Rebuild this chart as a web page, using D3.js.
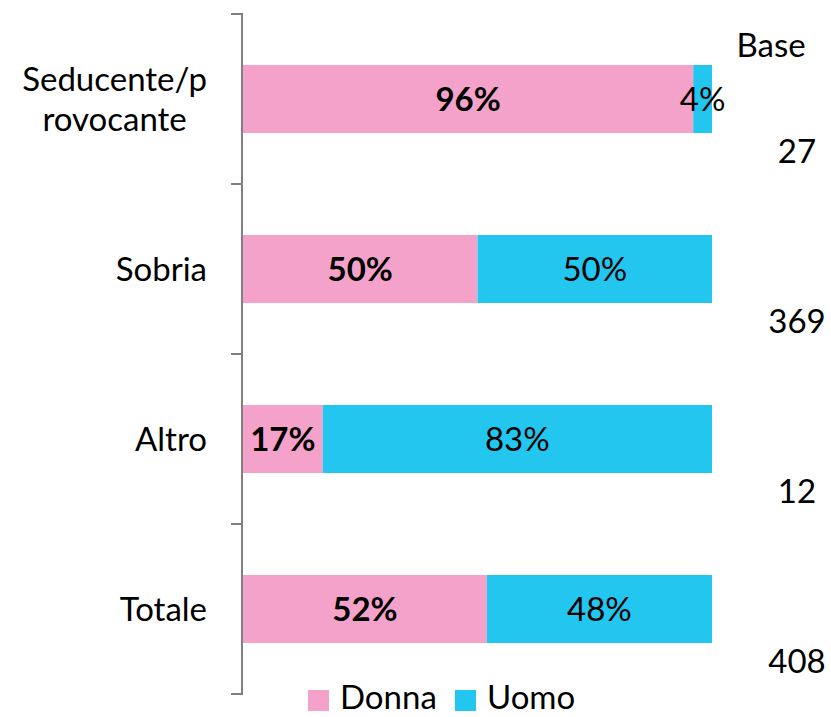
<!DOCTYPE html>
<html>
<head>
<meta charset="utf-8">
<script src="https://cdn.jsdelivr.net/npm/d3@7"></script>
<style>
  html, body { margin: 0; padding: 0; background: #fff; }
  svg { display: block; }
  text { font-family: Lato, "Open Sans", sans-serif; fill: #000; }
</style>
</head>
<body>
<svg id="chart" width="831" height="717"></svg>
<script>
// Gender split of respondents by style, with sample bases
const categories = ["Seducente/p rovocante", "Sobria", "Altro", "Totale"];
const categoryLines = [["Seducente/p", "rovocante"], ["Sobria"], ["Altro"], ["Totale"]];
const donna = [96, 50, 17, 52];
const uomo = [4, 50, 83, 48];
const bases = [27, 369, 12, 408];
const seriesNames = ["Donna", "Uomo"];
const seriesColors = ["#F5A2CA", "#22C6EE"];

const svg = d3.select("#chart");
const FS = 33;

const x = d3.scaleLinear().domain([0, 100]).range([243, 712]);
const y = d3.scaleBand().domain(categories).range([14, 694]).paddingInner(0.6).paddingOuter(0.3);

const rows = categories.map((c, i) => ({ cat: c, lines: categoryLines[i], donna: donna[i], uomo: uomo[i], base: bases[i] }));

const stack = d3.stack().keys(["donna", "uomo"]);
const layers = stack(rows);

// Stacked bars
layers.forEach((layer, li) => {
  svg.append("g")
    .selectAll("rect")
    .data(layer)
    .join("rect")
    .attr("x", d => x(d[0]))
    .attr("width", d => x(d[1]) - x(d[0]))
    .attr("y", d => y(d.data.cat))
    .attr("height", y.bandwidth())
    .attr("fill", seriesColors[li]);
});

// Value labels centred in each segment
layers.forEach((layer, li) => {
  svg.append("g")
    .selectAll("text")
    .data(layer)
    .join("text")
    .attr("x", d => (x(d[0]) + x(d[1])) / 2)
    .attr("y", d => y(d.data.cat) + y.bandwidth() / 2)
    .attr("dy", "0.36em")
    .attr("text-anchor", "middle")
    .attr("font-size", FS)
    .attr("font-weight", li === 0 ? "bold" : "normal")
    .text(d => (d[1] - d[0]) + "%");
});

// Category axis with band-edge ticks
const step = y.step();
const tickYs = categories.map(c => y(c) - step * y.paddingInner() / 2).concat([y.range()[1]]);
const axisG = svg.append("g");
axisG.append("line")
  .attr("x1", 242).attr("x2", 242)
  .attr("y1", y.range()[0]).attr("y2", y.range()[1])
  .attr("stroke", "#808080").attr("stroke-width", 2);
axisG.selectAll("line.tick")
  .data(tickYs)
  .join("line")
  .attr("class", "tick")
  .attr("x1", 231).attr("x2", 243)
  .attr("y1", d => d).attr("y2", d => d)
  .attr("stroke", "#808080").attr("stroke-width", 2);

// Category labels (multi-line labels are centred within their block)
const catG = svg.append("g");
const labelRight = 207;
rows.forEach(r => {
  const cy = y(r.cat) + y.bandwidth() / 2;
  const lh = 40;
  const t = catG.append("text")
    .attr("font-size", FS);
  const spans = r.lines.map((ln, k) => t.append("tspan")
    .attr("y", cy + (k - (r.lines.length - 1) / 2) * lh)
    .attr("dy", "0.36em")
    .text(ln));
  if (r.lines.length === 1) {
    t.attr("text-anchor", "end");
    spans[0].attr("x", labelRight);
  } else {
    const w = d3.max(spans, s => s.node().getComputedTextLength());
    t.attr("text-anchor", "middle");
    spans.forEach(s => s.attr("x", labelRight - w / 2));
  }
});

// Base column
svg.append("text")
  .attr("x", 771).attr("y", 45)
  .attr("dy", "0.36em")
  .attr("text-anchor", "middle")
  .attr("font-size", FS)
  .text("Base");
svg.append("g")
  .selectAll("text")
  .data(rows)
  .join("text")
  .attr("x", 797)
  .attr("y", d => y(d.cat) + y.bandwidth() / 2 + 52)
  .attr("dy", "0.36em")
  .attr("text-anchor", "middle")
  .attr("font-size", FS)
  .text(d => d.base);

// Legend
const legend = svg.append("g");
const legendX = [308, 455];
seriesNames.forEach((name, i) => {
  legend.append("rect")
    .attr("x", legendX[i]).attr("y", 690)
    .attr("width", 21).attr("height", 21)
    .attr("fill", seriesColors[i]);
  legend.append("text")
    .attr("x", legendX[i] + 32).attr("y", 709)
    .attr("font-size", FS)
    .text(name);
});
</script>
</body>
</html>
